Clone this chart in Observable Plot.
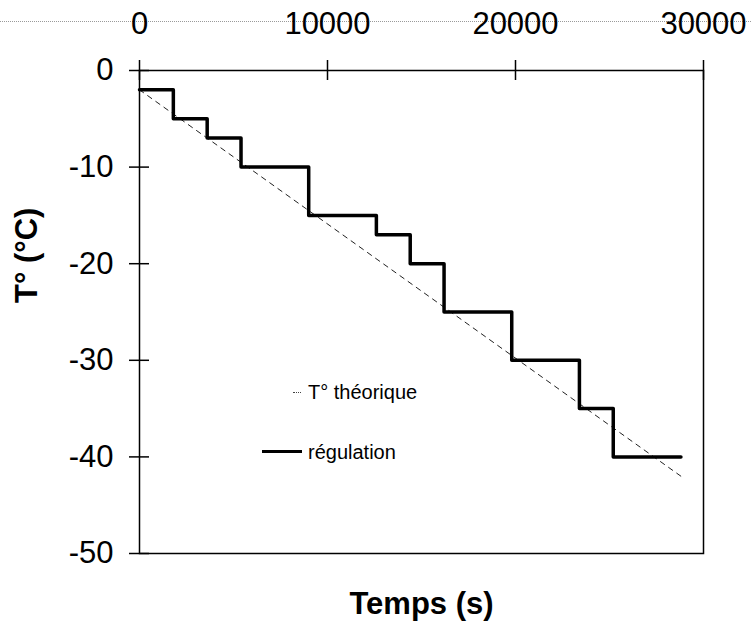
<!DOCTYPE html>
<html>
<head>
<meta charset="utf-8">
<script src="https://cdn.jsdelivr.net/npm/d3@7"></script>
<script src="https://cdn.jsdelivr.net/npm/@observablehq/plot@0.6"></script>
<style>
  html, body { margin: 0; padding: 0; background: white; }
  #wrap { position: relative; width: 751px; height: 633px; font-family: "Liberation Sans", Arial, sans-serif; }
  #topline { position: absolute; left: 0; top: 21px; width: 751px; border-top: 1px dotted #9a9a9a; }
  .lg { position: absolute; font-size: 20px; line-height: 23px; color: #000; white-space: nowrap; }
  #wrap svg { position: absolute; left: 0; top: 0; }
</style>
</head>
<body>
<div id="wrap">
  <div id="topline"></div>
  <div id="chart"></div>
  <div style="position:absolute;left:293px;top:392px;width:8px;border-top:1px dotted #444;"></div>
  <div class="lg" style="left:308px;top:381px;">T° théorique</div>
  <div style="position:absolute;left:262px;top:450px;width:40px;height:3px;background:#000;"></div>
  <div class="lg" style="left:308px;top:441px;">régulation</div>
</div>
<script>
// Data
const times = [0, 1800, 3600, 5400, 9000, 12600, 14400, 16200, 19800, 23400, 25200, 28800];
const regulation = [-2, -5, -7, -10, -15, -17, -20, -25, -30, -35, -40, -40];
const theoTimes = [0, 28800];
const theoValues = [-2, -42];
const xTicks = [0, 10000, 20000, 30000];
const yTicks = [0, -10, -20, -30, -40, -50];

const regData = times.map((t, i) => ({t, v: regulation[i]}));
const theoData = theoTimes.map((t, i) => ({t, v: theoValues[i]}));

const W = 751, H = 633, mL = 139, mR = 48, mT = 70, mB = 80;
const fw = W - mL - mR, fh = H - mT - mB;

const chart = Plot.plot({
  width: W, height: H,
  marginLeft: mL, marginRight: mR, marginTop: mT, marginBottom: mB,
  x: {domain: [0, 30000]},
  y: {domain: [-50, 0]},
  style: {fontFamily: "'Liberation Sans', Arial, sans-serif", fontSize: "31px", color: "#000", background: "transparent", overflow: "visible"},
  marks: [
    Plot.frame({stroke: "#000", strokeWidth: 1.5}),
    Plot.axisX(xTicks, {anchor: "top", tickSize: 0, tickPadding: 37, label: null, fontSize: 31, tickFormat: d => String(d)}),
    Plot.axisY(yTicks, {anchor: "left", tickSize: 0, tickPadding: 26, label: null, fontSize: 31, tickFormat: d => String(d)}),
    Plot.tickX(xTicks, {x: d => d, insetTop: -10, insetBottom: fh - 10, stroke: "#000", strokeWidth: 1.5}),
    Plot.tickY(yTicks, {y: d => d, insetLeft: -10, insetRight: fw - 10, stroke: "#000", strokeWidth: 1.5}),
    Plot.line(theoData, {x: "t", y: "v", stroke: "#222", strokeWidth: 1, strokeDasharray: "5,5"}),
    Plot.line(regData, {x: "t", y: "v", curve: "step-after", stroke: "#000", strokeWidth: 3.5}),
    Plot.text(["Temps (s)"], {frameAnchor: "bottom", lineAnchor: "middle", dy: 51, fontWeight: "bold", fontSize: 31}),
    Plot.text(["T° (°C)"], {frameAnchor: "left", lineAnchor: "middle", rotate: -90, dx: -112, dy: -9, fontWeight: "bold", fontSize: 31})
  ]
});
document.getElementById("chart").appendChild(chart);
</script>
</body>
</html>
